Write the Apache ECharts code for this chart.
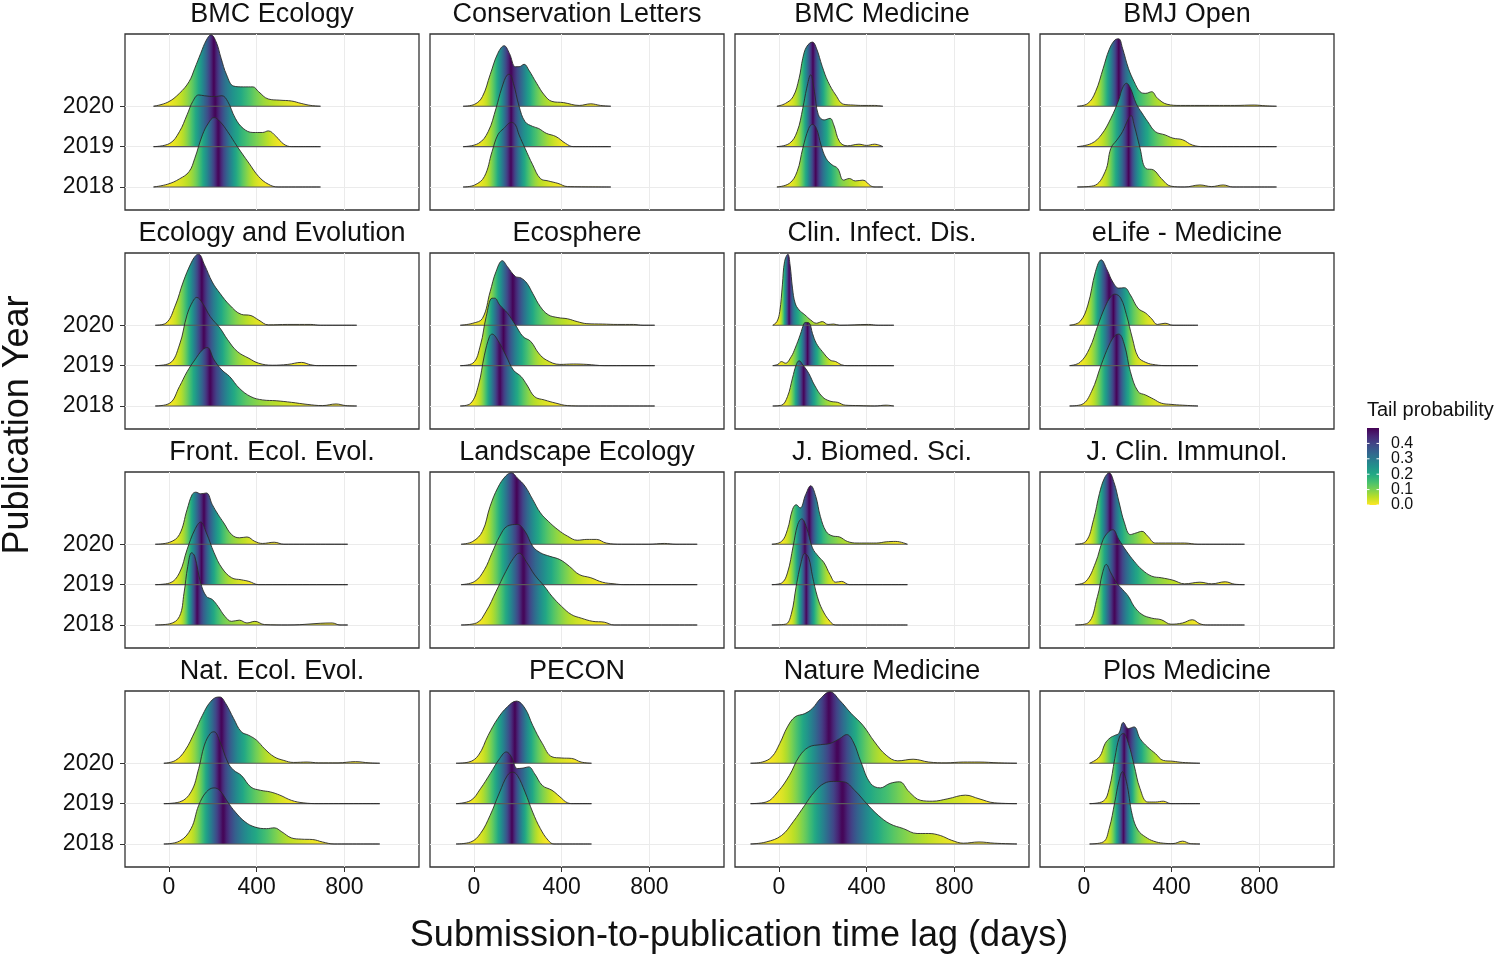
<!DOCTYPE html>
<html><head><meta charset="utf-8">
<script src="https://cdn.jsdelivr.net/npm/echarts@6/dist/echarts.min.js"></script>
<style>html,body{margin:0;padding:0;background:#fff}#chart{width:1499px;height:956px}</style>
</head><body><div id="chart"></div>
<script>
// ---------------- DATA ----------------
const PANEL_TITLES = ['BMC Ecology','Conservation Letters','BMC Medicine','BMJ Open',
  'Ecology and Evolution','Ecosphere','Clin. Infect. Dis.','eLife - Medicine',
  'Front. Ecol. Evol.','Landscape Ecology','J. Biomed. Sci.','J. Clin. Immunol.',
  'Nat. Ecol. Evol.','PECON','Nature Medicine','Plos Medicine'];
const YEARS = ['2018','2019','2020'];
const X_TICKS = [0, 400, 800];
const LEGEND_TICKS = [0.0, 0.1, 0.2, 0.3, 0.4];

// each panel: [2018, 2019, 2020]; points are [days, ridge height in row units]
const BMC_ECOLOGY = [
  [[-70,0],[-5,0.07],[48,0.2],[92,0.38],[118,0.71],[153,1.29],[180,1.58],[206,1.72],[233,1.62],[268,1.37],[312,1.0],[365,0.59],[409,0.26],[453,0.07],[498,0],[691,0]],
  [[-70,0],[4,0.08],[48,0.37],[83,0.79],[109,1.12],[136,1.28],[162,1.26],[206,1.24],[242,1.26],[268,1.12],[303,0.7],[339,0.45],[383,0.35],[427,0.35],[453,0.39],[489,0.25],[524,0.06],[559,0],[691,0]],
  [[-70,0],[-5,0.1],[48,0.32],[92,0.61],[118,0.94],[145,1.31],[171,1.64],[192,1.77],[215,1.6],[238,1.19],[263,0.78],[295,0.5],[339,0.48],[383,0.48],[409,0.36],[453,0.18],[506,0.15],[559,0.13],[603,0.07],[647,0.02],[691,0]]
];
const CONSERVATION_LETTERS = [
  [[-49,0],[4,0.05],[48,0.26],[83,0.88],[109,1.29],[136,1.45],[171,1.6],[189,1.54],[206,1.29],[233,0.96],[268,0.55],[303,0.21],[339,0.15],[383,0.09],[427,0.01],[624,0]],
  [[-49,0],[21,0.08],[65,0.37],[101,0.95],[127,1.45],[153,1.78],[162,1.79],[180,1.57],[206,1.0],[233,0.62],[268,0.5],[295,0.45],[330,0.33],[374,0.25],[418,0.08],[453,0],[624,0]],
  [[-49,0],[4,0.05],[39,0.24],[74,0.78],[109,1.31],[138,1.5],[162,1.31],[189,0.98],[206,0.98],[229,1.04],[250,0.9],[286,0.57],[321,0.28],[356,0.12],[409,0.09],[480,0.02],[533,0.06],[577,0.02],[624,0]]
];
const BMC_MEDICINE = [
  [[-9,0],[48,0.09],[83,0.38],[109,0.96],[136,1.45],[153,1.55],[171,1.45],[192,1.04],[215,0.71],[242,0.55],[268,0.46],[295,0.17],[321,0.21],[348,0.15],[383,0.17],[418,0.03],[439,0],[474,0]],
  [[-9,0],[48,0.08],[83,0.37],[109,0.95],[127,1.45],[145,1.78],[162,1.36],[180,0.79],[206,0.66],[233,0.7],[250,0.54],[277,0.12],[312,0.02],[365,0.06],[400,0.03],[436,0.06],[474,0]],
  [[-9,0],[30,0.07],[65,0.24],[92,0.69],[109,1.19],[127,1.48],[153,1.59],[171,1.44],[198,0.98],[224,0.61],[259,0.28],[295,0.05],[339,0.03],[383,0.02],[436,0.02],[474,0]]
];
const BMJ_OPEN = [
  [[-30,0],[44,0.03],[97,0.38],[123,0.96],[150,1.16],[176,1.37],[203,1.69],[215,1.77],[229,1.54],[256,0.96],[282,0.46],[318,0.42],[353,0.21],[397,0.02],[459,0],[529,0.05],[582,0.01],[635,0.05],[679,0],[878,0]],
  [[-30,0],[35,0.08],[79,0.29],[123,0.7],[159,1.16],[176,1.45],[194,1.57],[212,1.45],[238,1.07],[265,0.83],[291,0.62],[326,0.37],[370,0.29],[406,0.21],[450,0.17],[494,0.04],[547,0],[878,0]],
  [[-30,0],[18,0.07],[53,0.36],[88,0.94],[115,1.4],[141,1.64],[159,1.67],[176,1.44],[203,0.94],[229,0.61],[256,0.36],[282,0.32],[309,0.36],[335,0.2],[379,0.05],[441,0.02],[529,0.02],[617,0.02],[688,0.02],[776,0.03],[829,0.01],[878,0]]
];
const ECOLOGY_EVOLUTION = [
  [[-62,0],[4,0.07],[48,0.48],[83,0.85],[118,1.14],[153,1.39],[175,1.45],[206,1.14],[242,0.89],[277,0.73],[321,0.44],[374,0.23],[427,0.15],[489,0.13],[559,0.09],[630,0.04],[700,0.01],[762,0.05],[806,0.01],[856,0]],
  [[-62,0],[4,0.06],[48,0.51],[83,1.26],[109,1.59],[127,1.69],[153,1.55],[189,1.21],[233,0.93],[268,0.64],[312,0.35],[365,0.18],[409,0.06],[471,0.01],[542,0.03],[604,0.08],[647,0.02],[683,0],[856,0]],
  [[-62,0],[-14,0.05],[30,0.5],[65,1.07],[101,1.54],[123,1.73],[136,1.76],[162,1.5],[198,1.07],[233,0.79],[277,0.5],[330,0.27],[374,0.24],[409,0.13],[453,0.01],[542,0.02],[647,0.02],[691,0],[744,0],[856,0]]
];
const ECOSPHERE = [
  [[-62,0],[-14,0.07],[21,0.52],[48,1.26],[71,1.72],[83,1.78],[109,1.63],[145,1.26],[180,0.89],[215,0.73],[242,0.52],[277,0.23],[321,0.15],[374,0.07],[427,0.01],[497,0],[824,0]],
  [[-62,0],[-5,0.06],[30,0.51],[56,1.21],[83,1.67],[95,1.67],[118,1.5],[153,1.3],[189,1.01],[224,0.72],[259,0.6],[295,0.31],[330,0.14],[392,0.03],[453,0.04],[515,0.03],[594,0],[824,0]],
  [[-62,0],[-5,0.05],[39,0.17],[74,0.83],[101,1.33],[130,1.6],[153,1.45],[189,1.21],[215,1.17],[242,1.04],[268,0.79],[303,0.46],[339,0.26],[383,0.19],[427,0.16],[471,0.09],[515,0.04],[586,0.03],[656,0.02],[727,0.02],[771,0],[824,0]]
];
const CLIN_INFECT_DIS = [
  [[-28,0],[12,0.02],[39,0.23],[62,0.69],[79,1.02],[92,1.12],[109,1.02],[136,0.81],[162,0.52],[198,0.23],[233,0.12],[268,0.09],[303,0.02],[365,0.01],[436,0],[489,0.02],[524,0]],
  [[-28,0],[-5,0.03],[12,0.1],[30,0.06],[56,0.22],[74,0.43],[97,0.76],[115,1.05],[123,1.07],[139,1.05],[153,0.8],[171,0.55],[198,0.35],[233,0.14],[259,0.1],[286,0.02],[312,0],[524,0]],
  [[-28,0],[-9,0.09],[4,0.34],[16,1.0],[26,1.58],[41,1.76],[51,1.49],[62,0.92],[74,0.55],[92,0.38],[118,0.26],[145,0.13],[171,0.05],[198,0.09],[224,0.02],[250,0.03],[277,0],[409,0.02],[453,0],[524,0]]
];
const ELIFE_MEDICINE = [
  [[-65,0],[-9,0.04],[35,0.36],[79,1.02],[115,1.51],[141,1.74],[159,1.78],[185,1.51],[212,0.85],[247,0.36],[282,0.27],[318,0.17],[353,0.07],[397,0.04],[450,0.02],[520,0]],
  [[-65,0],[-18,0.08],[26,0.43],[62,0.97],[97,1.46],[123,1.71],[141,1.77],[168,1.67],[194,1.26],[221,0.68],[247,0.22],[282,0.08],[326,0.02],[380,0],[520,0]],
  [[-65,0],[-18,0.09],[18,0.5],[53,1.33],[79,1.62],[106,1.37],[132,1.07],[159,0.92],[185,0.93],[212,0.75],[247,0.42],[282,0.3],[309,0.16],[335,0.02],[370,0.05],[406,0],[520,0]]
];
const FRONT_ECOL_EVOL = [
  [[-62,0],[4,0.03],[48,0.21],[69,0.79],[86,1.45],[104,1.79],[118,1.7],[145,1.04],[171,0.71],[198,0.63],[224,0.46],[256,0.21],[286,0.09],[321,0.12],[356,0.05],[392,0.09],[436,0.01],[542,0],[744,0.05],[780,0],[815,0]],
  [[-62,0],[4,0.04],[48,0.29],[83,0.87],[118,1.36],[145,1.55],[171,1.28],[206,0.79],[242,0.41],[286,0.17],[330,0.12],[365,0.08],[409,0],[815,0]],
  [[-62,0],[4,0.05],[48,0.24],[83,0.86],[106,1.23],[123,1.29],[145,1.25],[171,1.27],[198,0.98],[224,0.74],[250,0.53],[286,0.24],[321,0.16],[356,0.18],[392,0.07],[427,0.02],[480,0.05],[524,0],[815,0]]
];
const LANDSCAPE_ECOLOGY = [
  [[-58,0],[12,0.05],[56,0.34],[101,0.83],[145,1.32],[180,1.65],[206,1.78],[242,1.54],[277,1.24],[321,0.96],[356,0.71],[400,0.46],[444,0.26],[489,0.17],[542,0.09],[594,0.07],[639,0],[1018,0]],
  [[-58,0],[4,0.08],[48,0.37],[83,0.79],[118,1.2],[153,1.45],[198,1.49],[233,1.32],[268,0.95],[303,0.79],[347,0.7],[392,0.62],[436,0.45],[480,0.25],[533,0.17],[586,0.06],[639,0.02],[683,0],[1018,0]],
  [[-58,0],[-5,0.07],[39,0.32],[74,0.94],[109,1.4],[145,1.69],[171,1.77],[198,1.64],[233,1.44],[268,1.11],[303,0.78],[339,0.57],[383,0.36],[427,0.2],[471,0.1],[515,0.12],[559,0.12],[603,0.03],[674,0],[797,0],[868,0.02],[921,0],[1018,0]]
];
const J_BIOMED_SCI = [
  [[-32,0],[30,0.02],[56,0.26],[79,0.96],[101,1.54],[118,1.77],[136,1.66],[153,1.21],[175,0.71],[198,0.38],[233,0.09],[259,0],[586,0]],
  [[-32,0],[12,0.04],[39,0.29],[65,0.95],[86,1.49],[104,1.63],[127,1.4],[153,0.91],[180,0.7],[206,0.54],[233,0.25],[259,0.06],[286,0.08],[321,0],[586,0]],
  [[-32,0],[12,0.07],[39,0.36],[62,0.86],[79,0.98],[97,0.9],[122,1.23],[145,1.45],[168,1.19],[189,0.69],[215,0.32],[242,0.21],[277,0.18],[312,0.07],[356,0.03],[400,0.03],[444,0.03],[489,0.06],[533,0.07],[586,0]]
];
const J_CLIN_IMMUNOL = [
  [[-39,0],[18,0.05],[62,0.71],[85,1.29],[102,1.5],[123,1.29],[150,1.04],[176,0.88],[203,0.71],[229,0.46],[265,0.26],[309,0.17],[353,0.13],[397,0.02],[450,0.05],[494,0.13],[529,0.03],[564,0],[732,0]],
  [[-39,0],[9,0.08],[53,0.54],[88,1.12],[115,1.32],[132,1.36],[159,1.12],[194,0.83],[229,0.58],[265,0.37],[309,0.21],[353,0.17],[406,0.11],[459,0.02],[529,0.06],[582,0.02],[644,0.07],[688,0.01],[732,0]],
  [[-39,0],[9,0.07],[44,0.61],[71,1.26],[94,1.64],[115,1.77],[138,1.52],[159,1.07],[185,0.53],[212,0.24],[238,0.28],[265,0.32],[291,0.2],[326,0.03],[388,0.03],[459,0.03],[520,0],[732,0]]
];
const NAT_ECOL_EVOL = [
  [[-23,0],[48,0.07],[101,0.38],[136,0.96],[171,1.29],[206,1.39],[233,1.32],[268,1.04],[303,0.79],[347,0.55],[392,0.42],[445,0.38],[480,0.4],[515,0.3],[559,0.15],[603,0.12],[656,0.11],[700,0.05],[753,0],[961,0]],
  [[-23,0],[48,0.04],[101,0.29],[136,0.87],[162,1.45],[189,1.74],[206,1.78],[233,1.53],[268,1.03],[295,0.83],[330,0.7],[374,0.41],[418,0.33],[462,0.29],[506,0.21],[559,0.08],[612,0.02],[683,0],[961,0]],
  [[-23,0],[30,0.07],[74,0.32],[118,0.78],[153,1.19],[189,1.52],[224,1.64],[233,1.64],[259,1.48],[295,1.11],[330,0.78],[365,0.69],[400,0.57],[436,0.36],[480,0.16],[524,0.07],[568,0.02],[630,0.03],[683,0.01],[771,0.01],[850,0.04],[912,0.01],[961,0]]
];
const PECON = [
  [[-81,0],[-14,0.05],[30,0.26],[74,0.71],[118,1.29],[153,1.7],[176,1.78],[198,1.7],[233,1.29],[268,0.79],[303,0.38],[339,0.09],[365,0],[536,0]],
  [[-81,0],[-14,0.08],[30,0.37],[74,0.74],[118,1.12],[148,1.28],[171,1.16],[198,0.87],[224,0.88],[250,0.91],[277,0.74],[312,0.45],[356,0.33],[392,0.17],[427,0.02],[453,0],[536,0]],
  [[-81,0],[-23,0.03],[21,0.2],[65,0.69],[109,1.11],[153,1.4],[194,1.54],[233,1.36],[268,0.94],[312,0.49],[356,0.16],[400,0.13],[445,0.12],[489,0.03],[536,0]]
];
const NATURE_MEDICINE = [
  [[-129,0],[-58,0.05],[12,0.21],[65,0.55],[118,0.96],[162,1.29],[206,1.5],[250,1.55],[295,1.54],[347,1.32],[400,1.0],[453,0.71],[506,0.5],[568,0.38],[630,0.26],[683,0.26],[736,0.21],[788,0.09],[841,0.02],[912,0.05],[982,0.02],[1085,0]],
  [[-129,0],[-58,0.04],[-5,0.29],[48,0.7],[92,1.16],[136,1.4],[189,1.46],[233,1.49],[277,1.61],[309,1.71],[339,1.53],[374,1.03],[418,0.5],[462,0.39],[506,0.5],[550,0.54],[594,0.29],[647,0.08],[700,0.06],[770,0.12],[850,0.21],[912,0.12],[982,0.02],[1085,0]],
  [[-129,0],[-76,0.03],[-32,0.16],[4,0.49],[39,0.9],[74,1.15],[118,1.23],[153,1.36],[189,1.6],[233,1.77],[277,1.56],[330,1.23],[383,0.94],[436,0.53],[489,0.2],[542,0.06],[612,0.1],[683,0.03],[762,0.01],[841,0.03],[912,0.03],[1000,0.01],[1085,0]]
];
const PLOS_MEDICINE = [
  [[26,0],[88,0.05],[115,0.38],[141,1.04],[159,1.54],[176,1.79],[194,1.54],[221,0.71],[247,0.34],[282,0.17],[318,0.07],[362,0.02],[406,0.01],[450,0.07],[485,0.01],[529,0]],
  [[26,0],[88,0.06],[115,0.37],[141,1.12],[162,1.65],[180,1.74],[203,1.49],[229,0.95],[256,0.37],[291,0.04],[326,0.04],[362,0.06],[397,0],[529,0]],
  [[26,0],[71,0.16],[97,0.49],[120,0.63],[141,0.69],[159,0.74],[180,1.01],[203,0.86],[229,0.9],[256,0.61],[291,0.4],[326,0.24],[362,0.07],[406,0.05],[450,0.02],[529,0]]
];

const PANEL_DATA = [BMC_ECOLOGY, CONSERVATION_LETTERS, BMC_MEDICINE, BMJ_OPEN,
  ECOLOGY_EVOLUTION, ECOSPHERE, CLIN_INFECT_DIS, ELIFE_MEDICINE,
  FRONT_ECOL_EVOL, LANDSCAPE_ECOLOGY, J_BIOMED_SCI, J_CLIN_IMMUNOL,
  NAT_ECOL_EVOL, PECON, NATURE_MEDICINE, PLOS_MEDICINE];

// ---------------- STYLE / LAYOUT ----------------
const FONT = 'Liberation Sans, Arial, Helvetica, sans-serif';
const COL_LEFT = [125, 430, 735, 1040];
const ROW_TOP = [34, 253, 472, 691];
const PW = 294, PH = 176;
const VIRIDIS = ['#440154','#482475','#414487','#355F8D','#2A788E','#21918C','#22A884','#44BF70','#7AD151','#BDDF26','#FDE725'];

function hexRgb(h) { return [parseInt(h.slice(1,3),16), parseInt(h.slice(3,5),16), parseInt(h.slice(5,7),16)]; }
function viridis(t) {
  t = Math.max(0, Math.min(1, t));
  const s = t * 10, i = Math.min(9, Math.floor(s)), f = s - i;
  const a = hexRgb(VIRIDIS[i]), b = hexRgb(VIRIDIS[i + 1]);
  return 'rgb(' + a.map((v, k) => Math.round(v + (b[k] - v) * f)).join(',') + ')';
}
function tailColor(p) { return viridis(1 - Math.min(p, 0.5) / 0.5); }

// gradient along x from the ridge's empirical CDF (tail probability)
function ridgeGradient(pts) {
  const x0 = pts[0][0], x1 = pts[pts.length - 1][0];
  const cum = [0];
  for (let i = 1; i < pts.length; i++) {
    cum.push(cum[i - 1] + (pts[i][0] - pts[i - 1][0]) * (pts[i][1] + pts[i - 1][1]) / 2);
  }
  const total = cum[cum.length - 1];
  const stops = [];
  const S = 6;
  for (let i = 1; i < pts.length; i++) {
    const xa = pts[i - 1][0], xb = pts[i][0], ha = pts[i - 1][1], hb = pts[i][1];
    for (let k = (i === 1 ? 0 : 1); k <= S; k++) {
      const s = k / S;
      const x = xa + (xb - xa) * s;
      const h = ha + (hb - ha) * s;
      const F = (cum[i - 1] + (x - xa) * (ha + h) / 2) / total;
      stops.push({ offset: (x - x0) / (x1 - x0), color: tailColor(Math.min(F, 1 - F)) });
    }
  }
  return { type: 'linear', x: 0, y: 0, x2: 1, y2: 0, colorStops: stops };
}

const grids = [], xAxes = [], yAxes = [], series = [], graphics = [];

PANEL_DATA.forEach((panel, p) => {
  const r = Math.floor(p / 4), c = p % 4;
  const bottomRow = r === 3, leftCol = c === 0;
  grids.push({ left: COL_LEFT[c], top: ROW_TOP[r], width: PW, height: PH, show: true,
    borderColor: '#333', borderWidth: 1.3, backgroundColor: '#fff' });
  xAxes.push({ type: 'value', gridIndex: p, position: 'bottom', min: -200, max: 1140, interval: 200,
    axisLine: { show: false, onZero: false },
    splitLine: { show: true, lineStyle: { color: '#ebebeb', width: 1 } },
    axisTick: { show: bottomRow, customValues: X_TICKS, length: 5, lineStyle: { color: '#333', width: 1 } },
    axisLabel: { show: bottomRow, customValues: X_TICKS, fontSize: 23, fontFamily: FONT, color: '#111', margin: 9 } });
  yAxes.push({ type: 'value', gridIndex: p, position: 'left', min: -0.57, max: 3.79,
    axisLine: { show: false, onZero: false }, splitLine: { show: false },
    axisTick: { show: leftCol, customValues: [0, 1, 2], length: 5, lineStyle: { color: '#333', width: 1 } },
    axisLabel: { show: leftCol, customValues: [0, 1, 2], fontSize: 23, fontFamily: FONT, color: '#111', margin: 11,
      formatter: v => YEARS[Math.round(v)] } });
  graphics.push({ type: 'text', x: COL_LEFT[c] + PW / 2, y: ROW_TOP[r] - 19, silent: true,
    style: { text: PANEL_TITLES[p], fontSize: 27, fontFamily: FONT, fill: '#111',
      align: 'center', verticalAlign: 'middle', textAlign: 'center', textVerticalAlign: 'middle' } });

  // draw 2020 first, 2018 last (lower ridges in front).
  // data rows are [value, days]; encode puts the stacked value first so stacking acts on y.
  [2, 1, 0].forEach((yi, order) => {
    const pts = panel[yi];
    const stack = 'p' + p + 'y' + yi;
    const base = { type: 'line', xAxisIndex: p, yAxisIndex: p, stack: stack, stackStrategy: 'all',
      encode: { x: 1, y: 0 },
      data: pts.map(d => [yi, d[0]]), symbol: 'none', silent: true,
      lineStyle: { color: '#5a5a5a', width: 1.1 } };
    if (order === 0) {
      base.markLine = { silent: true, symbol: 'none', z: 1, animation: false,
        label: { show: false }, lineStyle: { color: '#ebebeb', width: 1, type: 'solid' },
        data: [{ yAxis: 0 }, { yAxis: 1 }, { yAxis: 2 }] };
    }
    series.push(base);
    series.push({ type: 'line', xAxisIndex: p, yAxisIndex: p, stack: stack, stackStrategy: 'all',
      encode: { x: 1, y: 0 },
      data: pts.map(d => [d[1], d[0]]), symbol: 'none', silent: true, smooth: 0.4,
      lineStyle: { color: '#2a2a2a', width: 0.9 },
      areaStyle: { color: ridgeGradient(pts), opacity: 1 } });
  });
});

// axis titles
graphics.push({ type: 'text', x: 739, y: 936, silent: true,
  style: { text: 'Submission-to-publication time lag (days)', fontSize: 36, fontFamily: FONT, fill: '#111',
    align: 'center', verticalAlign: 'middle', textAlign: 'center', textVerticalAlign: 'middle' } });
graphics.push({ type: 'text', x: 18, y: 425, rotation: Math.PI / 2, silent: true,
  style: { text: 'Publication Year', fontSize: 36, fontFamily: FONT, fill: '#111',
    align: 'center', verticalAlign: 'middle', textAlign: 'center', textVerticalAlign: 'middle' } });

// legend (colour bar)
const barX = 1367, barTop = 428, barH = 77, barW = 12;
const barStops = [];
for (let i = 0; i <= 20; i++) barStops.push({ offset: i / 20, color: viridis(i / 20) });
graphics.push({ type: 'text', x: 1367, y: 410, silent: true,
  style: { text: 'Tail probability', fontSize: 20, fontFamily: FONT, fill: '#111',
    align: 'left', verticalAlign: 'middle', textAlign: 'left', textVerticalAlign: 'middle' } });
graphics.push({ type: 'rect', silent: true, shape: { x: barX, y: barTop, width: barW, height: barH },
  style: { fill: { type: 'linear', x: 0, y: 0, x2: 0, y2: 1, colorStops: barStops } } });
LEGEND_TICKS.forEach(v => {
  const y = barTop + barH * (1 - v / 0.5);
  graphics.push({ type: 'line', silent: true, shape: { x1: barX, y1: y, x2: barX + 2.5, y2: y }, style: { stroke: '#fff', lineWidth: 1 } });
  graphics.push({ type: 'line', silent: true, shape: { x1: barX + barW - 2.5, y1: y, x2: barX + barW, y2: y }, style: { stroke: '#fff', lineWidth: 1 } });
  graphics.push({ type: 'text', x: 1391, y: y, silent: true,
    style: { text: v.toFixed(1), fontSize: 16, fontFamily: FONT, fill: '#111',
      align: 'left', verticalAlign: 'middle', textAlign: 'left', textVerticalAlign: 'middle' } });
});

const chart = echarts.init(document.getElementById('chart'), null, { renderer: 'canvas' });
chart.setOption({
  animation: false,
  backgroundColor: '#fff',
  grid: grids, xAxis: xAxes, yAxis: yAxes, series: series,
  graphic: { elements: graphics }
});
</script></body></html>
